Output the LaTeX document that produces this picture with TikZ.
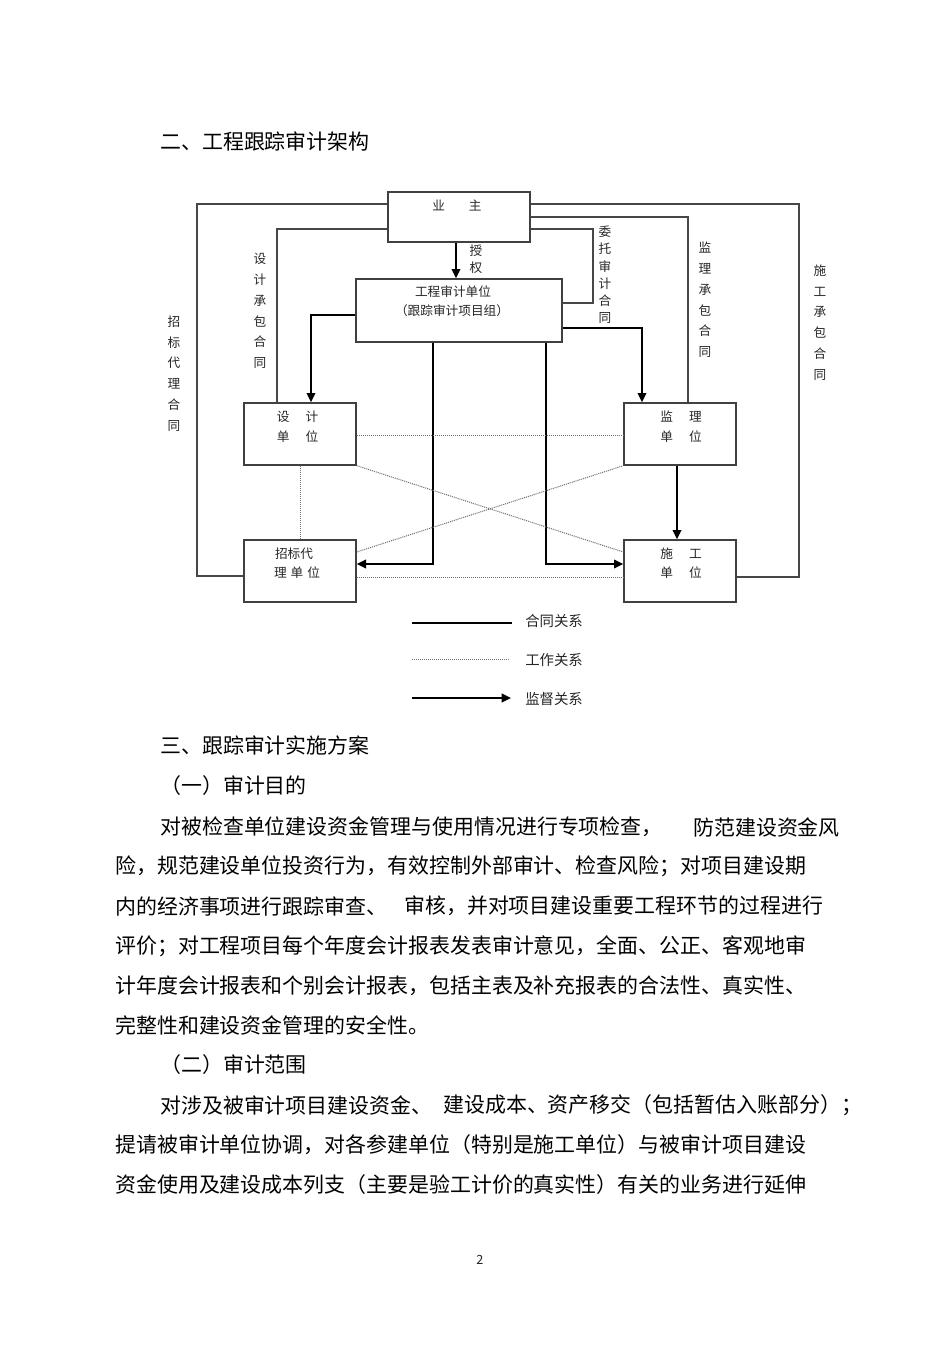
\documentclass[tikz,border=0pt]{standalone}
\usepackage{fontspec}
\setmainfont{Noto Sans CJK SC}
\usetikzlibrary{arrows.meta}
\begin{document}
\begin{tikzpicture}[x=0.75pt,y=-0.75pt,
  box/.style={draw=black!75, line width=1pt, minimum width=84pt, minimum height=46.5pt, inner sep=0pt},
  contract/.style={draw=black!72, line width=1pt},
  super/.style={draw=black, line width=1.4pt, -{Triangle[length=7pt,width=6.5pt]}},
  work/.style={draw=black!55, line width=0.75pt, dash pattern=on 0.8pt off 0.7pt},
  lbl/.style={font=\fontsize{9.5pt}{15.6pt}\selectfont, align=center, inner sep=0pt, text=black!85},
  lbls/.style={font=\fontsize{9.5pt}{12.9pt}\selectfont, align=center, inner sep=0pt, text=black!85},
  body/.style={font=\fontsize{15.7pt}{20pt}\selectfont, anchor=west, inner sep=0pt},
  leg/.style={font=\fontsize{10.8pt}{13pt}\selectfont, anchor=west, inner sep=0pt, text=black!85}
]
\fill[white] (0,0) rectangle (950,1345);
\useasboundingbox (0,0) rectangle (950,1345);

% title
\node[body] (title) at (160,141) {二、工程跟踪审计架构};

% boxes
\node[box, minimum width=106.5pt, minimum height=37.5pt] (yz) at (459,217) {};
\node[box, minimum width=154.5pt, minimum height=47.25pt] (gc) at (459,310.5) {};
\node[box] (sj) at (300,434) {};
\node[box] (jl) at (680,434) {};
\node[box] (zb) at (300,571) {};
\node[box] (sg) at (680,571) {};

% box texts
\node[lbl] (yzt) at (457,205) {业\hspace{18pt}主};
\node[lbl] (gct1) at (453,292) {工程审计单位};
\node[lbl] (gct2) at (452,311) {（跟踪审计项目组）};
\node[lbl] (sjt1) at (297.5,417) {设\hspace{12pt}计};
\node[lbl] (sjt2) at (297.5,437) {单\hspace{12pt}位};
\node[lbl] (jlt1) at (681,417) {监\hspace{12pt}理};
\node[lbl] (jlt2) at (681,437) {单\hspace{12pt}位};
\node[lbl] (zbt1) at (294,554) {招标代};
\node[lbl] (zbt2) at (297,573) {理\hspace{3pt}单\hspace{3pt}位};
\node[lbl] (sgt1) at (681,554) {施\hspace{12pt}工};
\node[lbl] (sgt2) at (681,573) {单\hspace{12pt}位};

% vertical labels
\node[lbl] (v1) at (174,373.5) {招\\标\\代\\理\\合\\同};
\node[lbl] (v2) at (260,311) {设\\计\\承\\包\\合\\同};
\node[lbls] (v3) at (605,275) {委\\托\\审\\计\\合\\同};
\node[lbl] (v4) at (705,300) {监\\理\\承\\包\\合\\同};
\node[lbl] (v5) at (820,322.5) {施\\工\\承\\包\\合\\同};
\node[lbls] (v6) at (476,259) {授\\权};

% contract lines
\draw[contract] (yz.west|-0,204) -| (197,576) -- (zb.west|-0,576);
\draw[contract] (yz.west|-0,229) -| (sj.north-|277,0);
\draw[contract] (yz.east|-0,204) -| (799,577) -- (sg.east|-0,577);
\draw[contract] (yz.east|-0,217) -| (jl.north-|688,0);
\draw[contract, line width=1.3pt] (yz.east|-0,229) -| (593,303) -- (gc.east|-0,303);

% supervision arrows
\draw[super] (yz.south-|456,0) -- (gc.north-|456,0);
\draw[super] (gc.west|-0,315) -| (sj.north-|311,0);
\draw[super] (gc.east|-0,328) -| (jl.north-|642,0);
\draw[super] (gc.south-|433,0) |- (zb.east|-0,564);
\draw[super] (gc.south-|546,0) |- (sg.west|-0,564);
\draw[super] (jl.south-|677,0) -- (sg.north-|677,0);

% work relations
\draw[work] (sj.east|-0,435) -- (jl.west|-0,435);
\draw[work] (zb.east|-0,577) -- (sg.west|-0,577);
\draw[work] (sj.south) -- (zb.north);
\draw[work] (sj.south east) -- (sg.west|-0,552);
\draw[work] (zb.east|-0,552) -- (jl.south west);

% legend
\coordinate (la1) at (412,623); \coordinate (lb1) at (512,623);
\coordinate (la2) at (412,659); \coordinate (lb2) at (510,659);
\coordinate (la3) at (412,698); \coordinate (lb3) at (511,698);
\draw[line width=0.8pt] (la1) -- (lb1);
\draw[work] (la2) -- (lb2);
\draw[super] (la3) -- (lb3);
\node[leg] (lg1) at (525,621) {合同关系};
\node[leg] (lg2) at (525,660) {工作关系};
\node[leg] (lg3) at (525,699) {监督关系};

% body text
\node[body] (h3) at (160,745) {三、跟踪审计实施方案};
\node[body] (h31) at (160,786) {（一）审计目的};
\node[body] (p1a) at (160,827) {对被检查单位建设资金管理与使用情况进行专项检查，};
\node[body] (p1b) at (693,827) {防范建设资金风};
\node[body] (p2) at (115,866) {险，规范建设单位投资行为，有效控制外部审计、检查风险；对项目建设期};
\node[body] (p3a) at (115,906) {内的经济事项进行跟踪审查、};
\node[body] (p3b) at (404,906) {审核，并对项目建设重要工程环节的过程进行};
\node[body] (p4) at (115,946) {评价；对工程项目每个年度会计报表发表审计意见，全面、公正、客观地审};
\node[body] (p5) at (115,986) {计年度会计报表和个别会计报表，包括主表及补充报表的合法性、真实性、};
\node[body] (p6) at (115,1025) {完整性和建设资金管理的安全性。};
\node[body] (h32) at (160,1065) {（二）审计范围};
\node[body] (q1a) at (160,1105) {对涉及被审计项目建设资金、};
\node[body] (q1b) at (443,1105) {建设成本、资产移交（包括暂估入账部分）；};
\node[body] (q2) at (115,1145) {提请被审计单位协调，对各参建单位（特别是施工单位）与被审计项目建设};
\node[body] (q3) at (115,1185) {资金使用及建设成本列支（主要是验工计价的真实性）有关的业务进行延伸};
\node[lbl] (pg) at (480,1260) {2};
\end{tikzpicture}
\end{document}
